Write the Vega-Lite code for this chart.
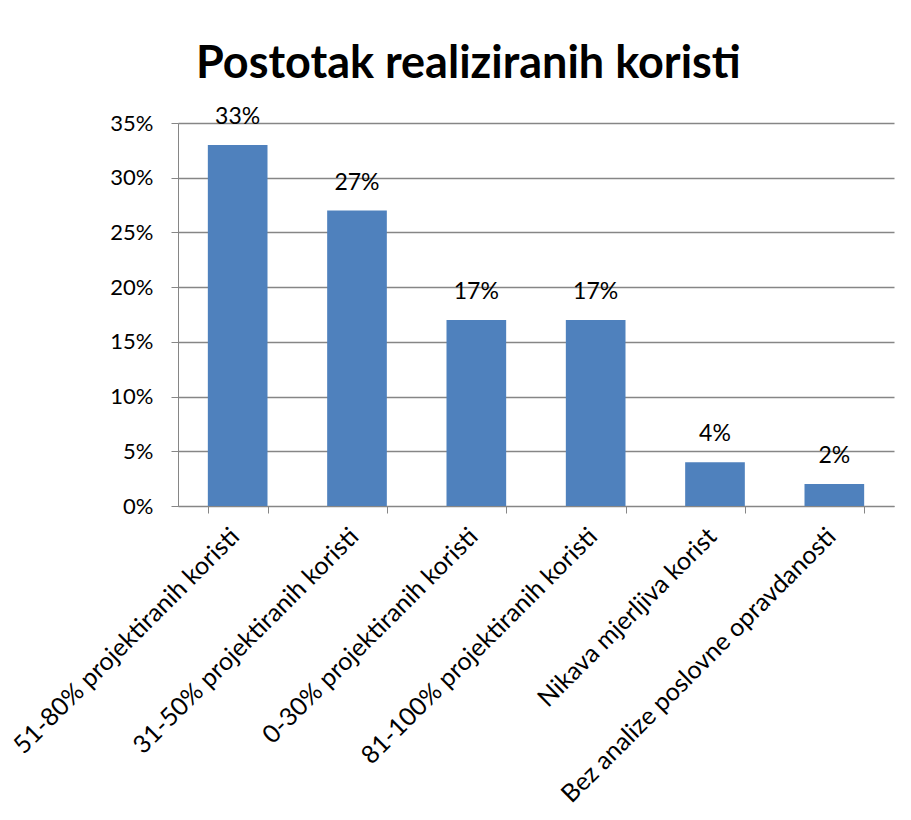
{
  "$schema": "https://vega.github.io/schema/vega-lite/v6.json",
  "autosize": "none",
  "width": 716,
  "height": 383,
  "padding": {"left": 178, "top": 123, "right": 17, "bottom": 314},
  "background": "white",
  "title": {
    "text": "Postotak realiziranih koristi",
    "font": "Lato",
    "fontSize": 45,
    "fontWeight": "bold",
    "color": "#000000",
    "anchor": "start",
    "frame": "group",
    "dx": 18,
    "offset": 19
  },
  "data": {
    "values": [
      {"kategorija": "51-80% projektiranih koristi", "postotak": 0.33},
      {"kategorija": "31-50% projektiranih koristi", "postotak": 0.27},
      {"kategorija": "0-30% projektiranih koristi", "postotak": 0.17},
      {"kategorija": "81-100% projektiranih koristi", "postotak": 0.17},
      {"kategorija": "Nikava mjerljiva korist", "postotak": 0.04},
      {"kategorija": "Bez analize poslovne opravdanosti", "postotak": 0.02}
    ]
  },
  "encoding": {
    "x": {
      "field": "kategorija",
      "type": "nominal",
      "sort": null,
      "scale": {"paddingInner": 0.5, "paddingOuter": 0.25},
      "axis": {
        "title": null,
        "labelAngle": -45,
        "labelAlign": "right",
        "labelBaseline": "middle",
        "labelFont": "Lato",
        "labelFontSize": 25,
        "labelColor": "#000000",
        "labelPadding": 19,
        "labelOffset": -3,
        "labelLimit": 600,
        "tickBand": "extent",
        "tickSize": 7,
        "tickColor": "#868686",
        "domainColor": "#868686",
        "grid": false
      }
    },
    "y": {
      "field": "postotak",
      "type": "quantitative",
      "scale": {"domain": [0, 0.35], "nice": false},
      "axis": {
        "title": null,
        "format": ".0%",
        "values": [0, 0.05, 0.1, 0.15, 0.2, 0.25, 0.3, 0.35],
        "labelFont": "Lato",
        "labelFontSize": 22,
        "labelColor": "#000000",
        "labelPadding": 18,
        "tickSize": 7,
        "tickColor": "#868686",
        "domainColor": "#868686",
        "gridColor": "#868686",
        "gridWidth": 1.5
      }
    }
  },
  "layer": [
    {"mark": {"type": "bar", "color": "#4F81BD"}},
    {
      "mark": {"type": "text", "font": "Lato", "fontSize": 23, "color": "#000000", "baseline": "middle", "dy": -28},
      "encoding": {"text": {"field": "postotak", "type": "quantitative", "format": ".0%"}}
    }
  ],
  "config": {"view": {"stroke": null}}
}
